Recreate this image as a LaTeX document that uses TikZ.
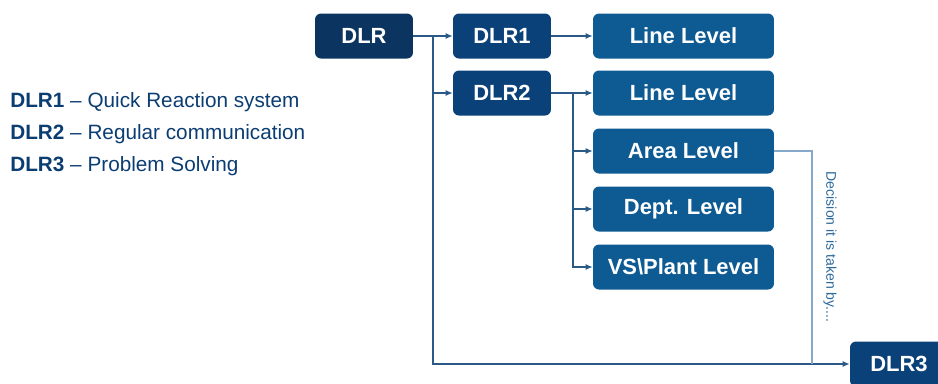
\documentclass[tikz,border=0pt]{standalone}
\usepackage{fontspec}
\setmainfont{Liberation Sans}
\usetikzlibrary{arrows.meta}

\definecolor{dlrnavy}{HTML}{0B3560}
\definecolor{dlrblue}{HTML}{0B4179}
\definecolor{lvlblue}{HTML}{0E5A93}
\definecolor{wireblue}{HTML}{2C5A88}
\definecolor{paleblue}{HTML}{86A9CB}
\definecolor{notetext}{HTML}{2F6A9A}
\definecolor{legendtext}{HTML}{0B3D73}

\begin{document}
\begin{tikzpicture}[x=0.02cm,y=-0.02cm,
    box/.style={rounded corners=3.4pt, text=white, inner sep=0pt,
        font=\fontsize{12.5}{15}\selectfont\bfseries, minimum height=0.9cm},
    dlrbox/.style={box, fill=dlrblue, minimum width=1.96cm},
    lvlbox/.style={box, fill=lvlblue, minimum width=3.62cm},
    wire/.style={draw=wireblue, line width=0.7pt},
    arr/.style={wire, -{Latex[length=4pt,width=3.5pt]}},
    legend/.style={anchor=west, text=legendtext, inner sep=0pt,
        font=\fontsize{11.8}{14}\selectfont}]

\useasboundingbox (0,0) rectangle (938,383);

% boxes
\node[box, fill=dlrnavy, minimum width=1.96cm] (dlr) at (364,36) {DLR};
\node[dlrbox] (dlrone) at (502,36) {DLR1};
\node[dlrbox] (dlrtwo) at (502,93) {DLR2};
\node[dlrbox] (dlrthree) at (899,364) {DLR3};

\node[lvlbox] (lineone) at (683.5,36) {Line Level};
\node[lvlbox] (linetwo) at (683.5,93) {Line Level};
\node[lvlbox] (area) at (683.5,151) {Area Level};
\node[lvlbox] (dept) at (683.5,209) {Dept. Level};
\node[lvlbox] (plant) at (683.5,267) {VS\textbackslash Plant Level};

% legend
\node[legend] (keyone) at (10,102) {\textbf{DLR1} -- Quick Reaction system};
\node[legend] (keytwo) at (10,134) {\textbf{DLR2} -- Regular communication};
\node[legend] (keythree) at (10,166) {\textbf{DLR3} -- Problem Solving};

% connectors
\coordinate (splitA) at (433,36);
\coordinate (splitB) at (573,93);
\coordinate (joinC) at (812,364);

\draw[wire] (dlr.east) -- (splitA);
\draw[arr] (splitA) -- (dlrone);
\draw[arr] (splitA) |- (dlrtwo);
\draw[arr] (splitA) |- (dlrthree);

\draw[arr] (dlrone) -- (lineone);

\draw[wire] (dlrtwo.east) -- (splitB);
\foreach \t in {linetwo,area,dept,plant}
    \draw[arr] (splitB) |- (\t);

\draw[draw=paleblue, line width=0.7pt] (area.east) -| (joinC);
\node[rotate=-90, text=notetext, font=\fontsize{8}{9}\selectfont,
    inner sep=0pt] (note) at (830,247) {Decision it is taken by....};

\end{tikzpicture}
\end{document}
